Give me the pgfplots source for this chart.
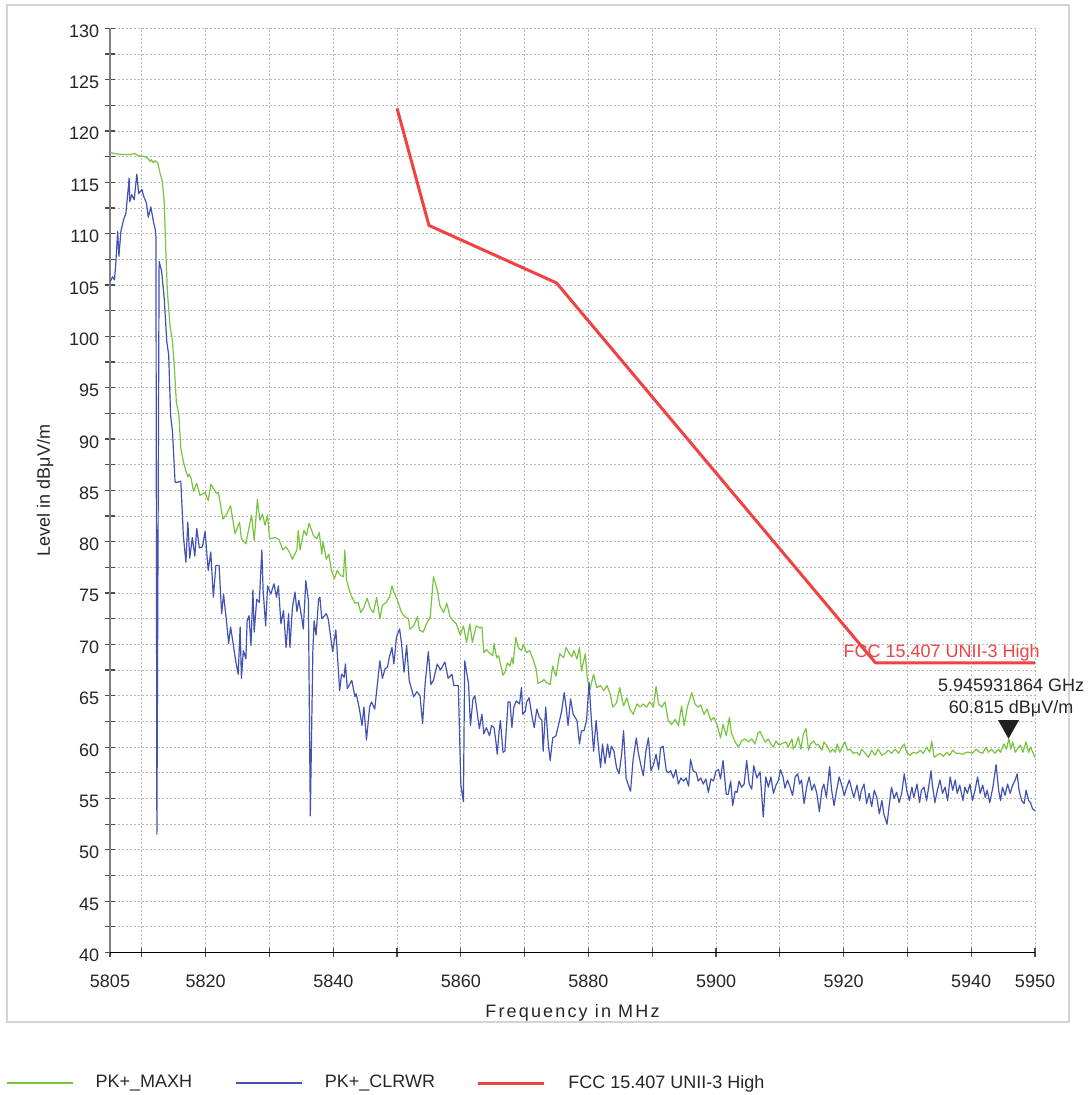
\documentclass[border=0pt]{standalone}
\usepackage{fontspec}
\setmainfont{Liberation Sans}
\newfontfamily\spacedfont{Liberation Sans}[LetterSpace=12]
\usepackage{pgfplots}
\pgfplotsset{compat=1.18}
\definecolor{cgreen}{RGB}{120,196,64}
\definecolor{cblue}{RGB}{66,82,178}
\definecolor{cred}{RGB}{240,66,66}
\definecolor{cframe}{RGB}{212,212,212}
\definecolor{cgrid}{RGB}{185,185,185}
\newcommand{\nf}{\fontsize{9pt}{10.8pt}\selectfont}
\begin{document}
\begin{tikzpicture}
\useasboundingbox (-55pt,-71.25pt) rectangle (490.5pt,476.25pt);
\draw[cframe, line width=1pt] (-51.5pt,-34.75pt) rectangle (479.5pt,473.75pt);
\begin{axis}[
  at={(0pt,0pt)}, anchor=south west,
  scale only axis, width=462.5pt, height=462.1pt,
  xmin=5805, xmax=5950, ymin=40, ymax=130,
  clip=false,
  axis x line=bottom, axis y line=left,
  x axis line style={-, black, line width=0.6pt},
  y axis line style={-, color=gray, line width=1.1pt},
  xtick={5805,5810,5820,5830,5840,5850,5860,5870,5880,5890,5900,5910,5920,5930,5940,5950},
  xticklabels={5805,,5820,,5840,,5860,,5880,,5900,,5920,,5940,5950},
  ytick={40,45,...,130},
  minor y tick num=1,
  tick align=center,
  major tick length=4.5pt, minor tick length=4.5pt,
  tick style={black!70, line width=0.6pt},
  xmajorgrids, ymajorgrids, yminorgrids,
  grid style={cgrid, line width=0.4pt, dash pattern=on 1pt off 1pt},
  minor grid style={cgrid, line width=0.4pt, dash pattern=on 1pt off 1pt},
  tick label style={font=\nf, text=black!85},
  /pgf/number format/assume math mode=true,
  xticklabel style={anchor=base, yshift=-15.1pt},
  yticklabel style={anchor=east, inner sep=3pt, yshift=-1.4pt},
  xlabel={\spacedfont Frequency in MHz},
  ylabel={Level in dBμV/m},
  xlabel style={font=\nf, text=black!85, at={(axis description cs:0.5,-0.06979)}, anchor=base},
  ylabel style={font=\nf, text=black!85, at={(axis description cs:-0.06486,0.5)}, anchor=base},
  legend columns=3,
  legend style={at={(axis description cs:-0.11243,-0.1412)}, anchor=west,
    draw=none, fill=none, inner sep=0pt, outer sep=0pt, font=\nf,
    nodes={inner sep=0pt, text=black!85},
    /tikz/every odd column/.append style={column sep=11.25pt},
    /tikz/every even column/.append style={column sep=0pt}},
  legend cell align=left,
  legend image code/.code={\draw[#1] (0pt,0pt) -- (33pt,0pt);},
]
\addplot[cgreen, line width=0.6pt, line join=round] table {
f L
5805.0 117.9
5805.8 117.8
5806.8 117.7
5808.1 117.7
5808.9 117.8
5809.4 117.6
5810.5 117.5
5811.0 117.3
5811.3 117.0
5811.5 117.2
5811.8 116.9
5812.1 117.1
5812.5 116.9
5812.8 116.0
5813.2 115.1
5813.5 113.1
5813.7 109.2
5814.0 104.3
5814.4 101.1
5814.8 99.5
5815.1 96.9
5815.4 93.6
5815.8 92.3
5816.1 89.1
5816.5 87.8
5816.8 87.1
5817.2 86.3
5817.4 86.6
5817.7 86.2
5818.1 84.9
5818.6 85.7
5819.1 84.5
5819.6 84.7
5819.9 84.8
5820.4 84.0
5820.8 85.6
5821.2 85.2
5821.7 84.7
5822.0 84.8
5822.7 82.2
5823.3 82.7
5823.9 83.5
5824.6 80.8
5825.3 81.9
5825.6 80.3
5826.3 79.8
5826.7 81.1
5827.2 82.6
5827.6 80.1
5828.1 84.1
5828.5 82.1
5828.9 82.7
5829.3 81.6
5829.7 82.6
5830.0 80.3
5830.9 80.4
5831.5 80.2
5832.1 79.2
5832.6 79.5
5833.1 79.0
5833.6 78.3
5834.3 79.2
5834.5 81.1
5834.8 79.2
5835.4 81.1
5835.8 80.6
5836.2 81.8
5836.9 80.6
5837.4 80.3
5837.8 80.9
5838.2 78.8
5838.4 80.0
5838.9 78.3
5839.3 78.8
5839.7 77.2
5840.2 76.4
5840.6 77.2
5841.2 76.7
5841.6 76.6
5841.8 79.2
5842.1 76.2
5842.7 74.9
5843.4 74.0
5843.9 74.1
5844.3 73.1
5844.8 73.6
5845.3 74.5
5845.8 73.5
5846.3 73.1
5846.8 74.6
5847.3 72.5
5847.7 73.8
5848.3 74.1
5848.8 74.6
5849.2 75.7
5849.5 75.1
5850.0 74.4
5850.7 73.1
5851.2 72.7
5851.8 72.5
5852.0 71.5
5852.6 71.8
5853.2 72.7
5853.5 71.4
5854.1 71.2
5854.6 72.0
5855.2 72.7
5855.7 76.6
5856.3 75.3
5856.7 73.8
5857.3 73.1
5857.8 74.0
5858.3 72.7
5858.8 72.3
5859.3 72.0
5859.9 70.9
5860.4 71.8
5860.9 70.2
5861.4 72.0
5861.8 70.2
5862.4 71.8
5863.0 71.6
5863.3 71.7
5863.6 69.2
5864.0 69.5
5864.6 69.1
5865.0 68.9
5865.2 70.1
5865.6 68.7
5865.9 68.9
5866.1 68.4
5866.6 67.0
5866.9 67.3
5867.3 68.2
5867.7 67.9
5868.0 68.7
5868.2 68.1
5868.6 70.7
5869.0 69.7
5869.5 69.4
5869.8 70.0
5870.3 69.2
5870.8 69.4
5871.4 68.4
5871.8 67.6
5872.1 66.2
5872.7 66.4
5873.0 66.6
5873.4 66.3
5874.0 66.1
5874.4 67.9
5874.9 66.9
5875.5 69.1
5876.1 68.7
5876.5 69.7
5877.0 69.1
5877.4 68.8
5877.7 69.4
5878.2 68.6
5878.6 69.7
5878.9 67.4
5879.5 69.1
5879.8 66.8
5880.2 65.5
5880.8 67.1
5881.3 65.8
5881.9 66.0
5882.4 65.5
5882.9 66.0
5883.4 65.2
5883.8 63.9
5884.4 64.3
5884.9 65.8
5885.5 64.0
5886.0 64.8
5886.5 63.7
5887.0 63.2
5887.6 64.2
5888.1 63.9
5888.6 64.2
5889.1 63.9
5889.6 64.4
5890.2 63.9
5890.6 65.9
5891.0 64.2
5891.5 63.9
5892.0 64.4
5892.5 62.6
5893.0 62.2
5893.6 62.7
5894.1 62.1
5894.6 64.0
5895.0 62.1
5895.5 63.9
5896.2 65.3
5896.7 64.2
5897.2 63.9
5897.6 64.1
5898.1 63.2
5898.6 63.7
5899.2 62.6
5899.7 62.9
5900.2 62.1
5900.7 60.9
5901.1 62.2
5901.6 61.1
5902.1 62.9
5902.4 61.4
5903.0 60.5
5903.5 60.0
5904.0 60.6
5904.5 60.8
5905.1 60.5
5905.6 60.8
5906.1 60.3
5906.6 61.4
5906.9 61.5
5907.3 61.0
5907.7 60.5
5908.2 60.8
5908.6 60.3
5909.0 60.0
5909.4 60.6
5909.9 60.2
5910.5 60.4
5911.0 60.5
5911.3 60.0
5911.9 60.8
5912.1 59.8
5912.5 60.2
5912.9 61.0
5913.3 59.8
5913.7 61.3
5914.1 61.8
5914.5 59.7
5914.8 60.3
5915.3 60.6
5915.7 60.2
5916.0 60.3
5916.6 59.7
5916.9 60.5
5917.3 60.2
5917.9 59.5
5918.3 59.8
5918.7 59.5
5919.0 60.3
5919.4 59.5
5919.9 60.2
5920.2 60.5
5920.6 59.7
5921.0 59.8
5921.5 59.4
5922.1 59.5
5922.5 59.2
5922.8 59.8
5923.4 59.4
5923.9 59.0
5924.4 59.7
5924.9 59.2
5925.4 59.8
5926.0 59.2
5926.5 59.4
5927.0 59.7
5927.5 59.4
5928.1 59.8
5928.6 59.4
5929.1 60.0
5929.5 60.3
5929.9 59.5
5930.4 59.2
5930.9 59.5
5931.5 59.4
5932.0 59.7
5932.5 59.4
5933.0 60.0
5933.5 59.5
5933.8 60.6
5934.2 59.0
5934.6 59.2
5935.1 59.4
5935.6 59.1
5936.2 59.5
5936.6 59.2
5937.1 59.7
5937.6 59.4
5938.1 59.4
5938.7 59.3
5939.2 59.5
5939.7 59.5
5940.2 59.4
5940.8 59.8
5941.3 59.5
5941.8 59.4
5942.3 60.0
5942.7 59.5
5943.2 59.8
5943.7 59.4
5944.3 59.8
5944.6 59.5
5945.1 60.3
5945.5 59.8
5945.9 60.8
5946.2 59.8
5946.5 60.5
5946.9 59.5
5947.2 59.8
5947.7 60.2
5948.1 59.5
5948.6 60.5
5949.0 59.5
5949.3 60.0
5950.0 59.0
};
\addlegendentry{\makebox[69.7pt][l]{PK+\_MAXH}}
\addplot[cblue, line width=0.6pt, line join=round] table {
f L
5805.0 105.3
5805.4 105.8
5805.7 105.5
5805.9 107.0
5806.2 110.2
5806.4 107.8
5806.7 110.2
5807.1 111.3
5807.5 112.0
5808.0 115.4
5808.1 113.1
5808.4 113.8
5808.8 113.3
5809.2 115.8
5809.5 113.9
5810.0 114.3
5810.3 113.6
5810.7 113.0
5811.0 111.6
5811.4 112.6
5811.8 111.2
5812.1 110.4
5812.2 109.7
5812.35 51.5
5812.7 107.3
5813.1 106.3
5813.5 103.7
5813.9 99.5
5814.2 98.2
5814.5 92.3
5814.8 90.7
5815.2 85.8
5815.6 85.8
5816.1 85.9
5816.5 80.6
5816.9 78.0
5817.2 81.9
5817.5 78.4
5817.9 80.4
5818.3 78.6
5818.6 81.3
5819.0 79.4
5819.5 79.5
5819.9 81.0
5820.4 77.2
5820.8 79.0
5821.2 74.6
5821.6 77.7
5822.1 77.7
5822.5 73.0
5822.8 74.9
5823.3 72.0
5823.6 70.1
5823.9 71.7
5824.3 70.1
5824.7 68.4
5825.1 67.1
5825.4 71.7
5825.6 66.7
5825.9 69.4
5826.3 68.6
5826.5 72.3
5826.8 72.8
5827.1 69.9
5827.4 75.3
5827.6 71.2
5828.0 74.4
5828.4 74.1
5828.8 79.2
5829.0 75.3
5829.4 71.8
5829.7 75.7
5830.2 74.9
5830.7 75.9
5831.1 74.6
5831.4 75.7
5831.8 72.0
5832.2 73.3
5832.6 69.7
5833.0 73.0
5833.2 69.7
5833.6 73.6
5834.0 75.1
5834.3 73.2
5834.6 74.3
5835.0 72.8
5835.3 71.5
5835.7 76.2
5836.1 74.3
5836.4 53.3
5836.8 69.4
5837.0 72.3
5837.3 70.9
5837.7 74.4
5837.9 74.6
5838.2 72.5
5838.9 73.0
5839.2 72.5
5839.9 69.3
5840.4 71.4
5841.0 65.5
5841.3 67.1
5841.7 66.8
5841.9 68.1
5842.2 65.7
5842.9 66.5
5843.4 64.9
5843.6 65.2
5844.1 63.7
5844.5 62.1
5844.8 63.9
5845.2 60.7
5845.7 63.9
5846.0 64.4
5846.5 63.7
5847.3 68.4
5847.7 66.7
5848.1 67.6
5848.5 67.8
5848.8 68.8
5849.2 69.7
5849.5 68.1
5849.9 70.7
5850.4 71.5
5850.7 70.1
5851.1 67.3
5851.5 69.9
5851.9 66.5
5852.6 64.9
5853.1 65.4
5853.6 65.0
5854.0 62.3
5854.4 66.2
5854.9 69.3
5855.3 66.1
5855.7 66.5
5856.3 68.1
5856.8 67.5
5857.5 68.3
5858.0 66.7
5858.6 67.1
5858.9 66.0
5859.6 66.0
5860.0 56.3
5860.4 54.7
5860.6 68.4
5861.2 66.2
5861.5 62.1
5861.9 64.7
5862.2 65.0
5862.9 61.8
5863.3 63.2
5863.6 61.3
5864.0 61.9
5864.5 61.1
5864.8 62.1
5865.2 61.9
5865.5 60.5
5865.7 59.3
5866.0 61.6
5866.2 62.6
5866.6 59.5
5866.9 59.6
5867.4 64.4
5867.7 64.4
5868.0 61.9
5868.3 63.9
5868.7 64.5
5869.2 64.2
5869.5 65.8
5869.7 63.2
5870.1 63.5
5870.3 64.4
5870.7 64.8
5871.1 63.2
5871.5 61.9
5871.9 63.7
5872.3 62.9
5872.7 62.6
5872.9 59.6
5873.3 63.9
5873.7 60.3
5874.0 58.7
5874.4 60.9
5874.9 61.1
5875.4 62.4
5875.8 63.5
5876.2 65.3
5876.5 63.9
5876.8 62.1
5877.2 64.7
5877.6 63.2
5878.2 62.6
5878.6 60.3
5878.9 61.6
5879.3 61.6
5879.7 62.6
5880.1 66.3
5880.4 63.2
5880.8 59.6
5881.2 62.6
5881.5 60.5
5881.9 58.0
5882.2 60.3
5882.6 58.4
5883.0 60.3
5883.3 59.0
5883.6 60.1
5884.0 59.6
5884.4 58.0
5884.8 57.4
5885.2 59.3
5885.5 61.6
5885.9 57.0
5886.2 56.4
5886.6 55.7
5887.0 58.8
5887.5 60.9
5887.8 59.5
5888.2 58.3
5888.6 57.2
5889.0 59.6
5889.4 60.9
5889.8 57.7
5890.2 58.3
5890.6 59.3
5891.0 57.8
5891.3 59.9
5891.7 60.1
5892.2 57.7
5892.5 57.5
5892.9 57.7
5893.3 57.0
5893.7 57.8
5894.1 56.4
5894.5 57.0
5894.9 56.7
5895.3 57.0
5895.7 56.2
5896.0 58.8
5896.4 57.7
5896.9 57.5
5897.2 56.7
5897.6 57.0
5898.0 56.4
5898.4 56.9
5898.8 55.6
5899.2 56.9
5899.6 56.7
5900.0 57.7
5900.4 57.8
5900.7 56.9
5901.1 58.7
5901.6 55.4
5901.9 55.4
5902.3 56.7
5902.6 54.3
5903.0 55.7
5903.3 55.6
5903.6 56.7
5904.0 56.1
5904.4 56.4
5904.8 58.7
5905.2 56.4
5905.6 55.9
5905.9 58.2
5906.4 57.0
5906.9 57.6
5907.4 53.2
5907.8 57.1
5908.2 56.1
5908.6 57.1
5909.0 55.5
5909.4 56.3
5909.8 56.8
5910.1 57.8
5910.5 57.1
5910.8 56.0
5911.2 56.8
5911.6 56.1
5912.0 55.3
5912.4 57.1
5912.8 57.4
5913.1 56.4
5913.4 56.8
5913.8 54.5
5914.2 56.1
5914.6 57.1
5915.0 55.8
5915.4 56.4
5915.8 55.5
5916.2 53.7
5916.6 55.9
5916.9 56.4
5917.3 55.1
5917.8 58.1
5918.1 55.9
5918.5 54.3
5918.9 55.8
5919.3 57.1
5919.7 56.3
5920.1 55.3
5920.5 56.1
5920.9 56.8
5921.3 55.8
5921.6 55.1
5922.1 56.3
5922.5 54.8
5922.8 55.8
5923.2 56.4
5923.6 54.5
5924.0 55.5
5924.4 54.2
5924.8 55.8
5925.2 55.1
5925.6 53.5
5926.0 54.8
5926.3 53.5
5926.8 52.5
5927.2 54.6
5927.5 56.1
5927.9 55.0
5928.3 55.6
5928.7 54.6
5929.1 55.5
5929.5 57.4
5929.9 55.8
5930.3 54.8
5930.7 56.1
5931.0 55.1
5931.5 56.4
5931.9 54.6
5932.2 55.8
5932.6 56.1
5933.0 54.8
5933.4 56.4
5933.7 57.7
5933.9 56.4
5934.3 54.6
5934.7 55.8
5935.1 56.8
5935.5 55.5
5935.9 56.1
5936.3 54.8
5936.7 57.1
5937.1 55.8
5937.5 56.8
5937.8 55.5
5938.2 56.3
5938.7 54.8
5939.0 56.1
5939.4 55.5
5939.8 56.4
5940.2 54.8
5940.6 55.8
5941.0 57.1
5941.4 55.5
5941.8 56.3
5942.2 55.1
5942.5 55.8
5942.9 54.6
5943.4 56.1
5943.9 58.3
5944.3 55.8
5944.6 54.8
5944.9 56.1
5945.3 55.3
5945.7 56.4
5946.1 55.5
5946.5 56.3
5946.9 56.8
5947.2 57.4
5947.5 55.8
5947.9 54.8
5948.3 54.5
5948.6 55.8
5949.0 54.8
5949.3 54.6
5949.6 54.0
5950.0 53.8
};
\addlegendentry{\makebox[76pt][l]{PK+\_CLRWR}}
\addplot[cred, line width=1.5pt, line join=round] coordinates {
(5850,122.2) (5855,110.8) (5875,105.2) (5925,68.2) (5950,68.2)
};
\addlegendentry{FCC 15.407 UNII-3 High}
\node[font=\nf, text=cred, anchor=base east, inner sep=0pt] at (axis cs:5950.8,68.72) {FCC 15.407 UNII-3 High};
\node[font=\nf, text=black!85, anchor=base, inner sep=0pt] at (axis cs:5946.25,65.39) {5.945931864 GHz};
\node[font=\nf, text=black!85, anchor=base, inner sep=0pt] at (axis cs:5946.25,63.29) {60.815 dBμV/m};
\fill[black!88] (axis cs:5945.85,60.815) -- ++(-5.2pt,9.3pt) -- ++(10.4pt,0pt) -- cycle;
\end{axis}
\end{tikzpicture}
\end{document}
